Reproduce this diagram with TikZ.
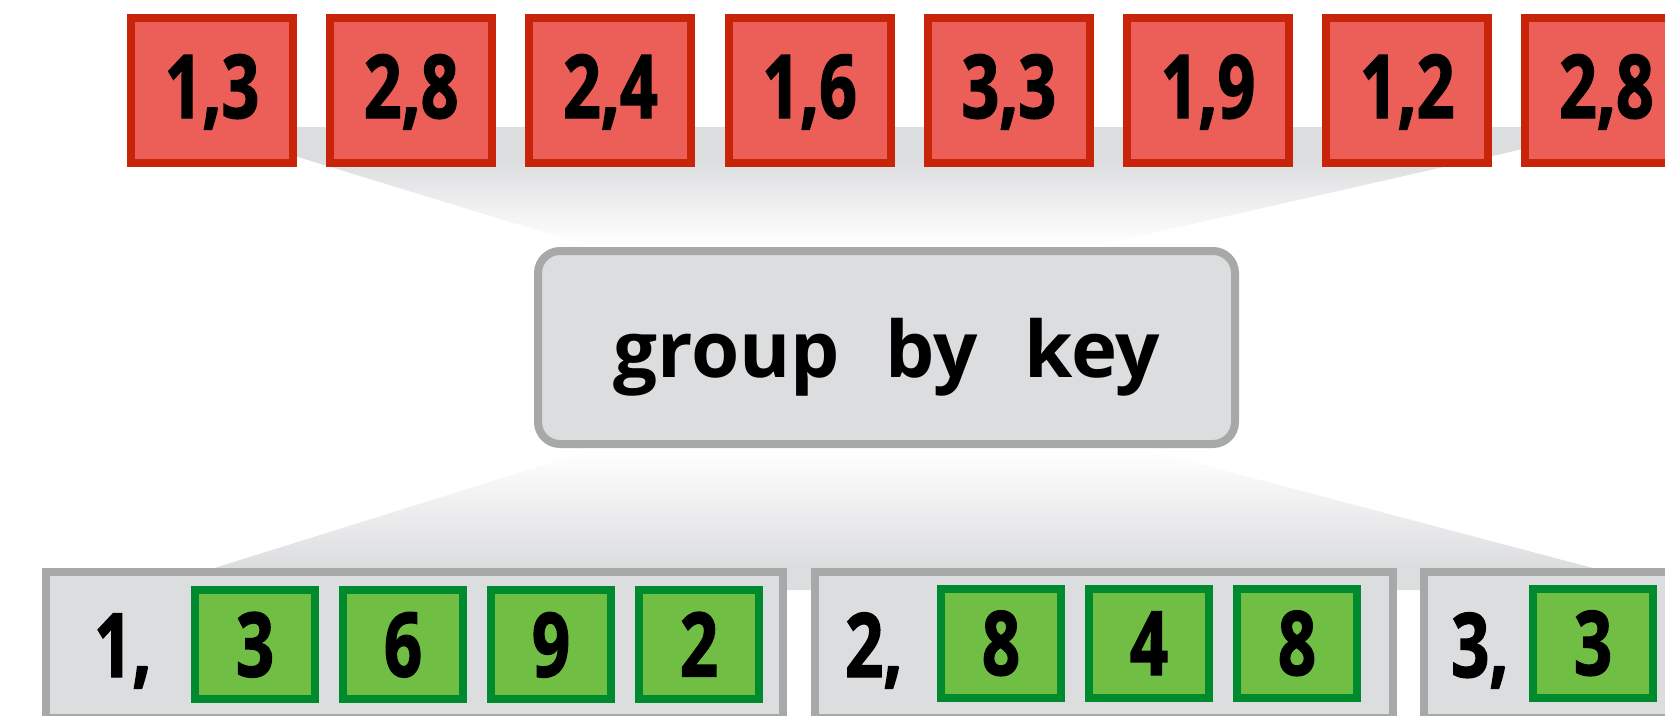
\documentclass[tikz,border=0pt]{standalone}
\usepackage{fontspec}
\setmainfont{Open Sans}
\newfontfamily\condfont{Open Sans}[FakeStretch=0.75,FakeBold=1.6]
\definecolor{redfill}{HTML}{EC5E58}
\definecolor{redline}{HTML}{C8240A}
\definecolor{greenfill}{HTML}{70BF44}
\definecolor{greenline}{HTML}{008A2E}
\definecolor{gfill}{HTML}{DCDDDF}
\definecolor{gline}{HTML}{A7A9A8}
\pgfdeclareverticalshading{topfade}{100bp}{color(0bp)=(white); color(25bp)=(white); color(61bp)=(gfill); color(100bp)=(gfill)}
\pgfdeclareverticalshading{botfade}{100bp}{color(0bp)=(gfill); color(33bp)=(gfill); color(75bp)=(white); color(100bp)=(white)}
\begin{document}
\begin{tikzpicture}[x=1pt,y=-1pt,
  pairbox/.style={draw=redline, fill=redfill, line width=8pt, minimum width=162pt, minimum height=145pt,
    inner sep=0pt, text height=63pt, text depth=8pt, font=\condfont\bfseries\fontsize{88}{88}\selectfont},
  valbox/.style={draw=greenline, fill=greenfill, line width=8pt, minimum width=120pt, minimum height=109pt,
    inner sep=0pt, text height=64pt, text depth=0pt, font=\condfont\bfseries\fontsize{89}{89}\selectfont},
  groupbox/.style={draw=gline, fill=gfill, line width=8pt, minimum height=146pt, inner sep=0pt},
  keylabel/.style={anchor=base west, inner sep=0pt, font=\condfont\bfseries\fontsize{89}{89}\selectfont},
  opbox/.style={draw=gline, fill=gfill, line width=8pt, rounded corners=22pt, minimum width=697pt, minimum height=193pt,
    inner sep=0pt, text height=59pt, text depth=0pt, font=\bfseries\fontsize{78}{78}\selectfont}]
\useasboundingbox (0,0) rectangle (1665,715);
\clip (0,0) rectangle (1665,715);
% funnels
\path[shading=topfade] (200,127) -- (1620,127) -- (1100,245) -- (585,245) -- cycle;
\path[shading=botfade] (592,450) -- (1147,450) -- (1676,590) -- (144,590) -- cycle;
% top row
\node[pairbox] (r1) at (212,90.5) {1,3};
\node[pairbox] (r2) at (411.2,90.5) {2,8};
\node[pairbox] (r3) at (610.4,90.5) {2,4};
\node[pairbox] (r4) at (809.6,90.5) {1,6};
\node[pairbox] (r5) at (1008.8,90.5) {3,3};
\node[pairbox] (r6) at (1208,90.5) {1,9};
\node[pairbox] (r7) at (1407.2,90.5) {1,2};
\node[pairbox] (r8) at (1606.4,90.5) {2,8};
% operation
\node[opbox] (op) at (886.5,347.5) {group\hspace{46pt}by\hspace{46pt}key};
% groups
\node[groupbox, minimum width=737pt] (g1) at (414.5,645) {};
\node[groupbox, minimum width=578pt] (g2) at (1104,645) {};
\node[groupbox, minimum width=253pt] (g3) at (1550.5,645) {};
\node[keylabel] (k1) at (94,677) {1,};
\node[keylabel] (k2) at (845,677) {2,};
\node[keylabel] (k3) at (1451,677) {3,};
\node[valbox] (v11) at (255,644.5) {3};
\node[valbox] (v12) at (403,644.5) {6};
\node[valbox] (v13) at (551,644.5) {9};
\node[valbox] (v14) at (699,644.5) {2};
\node[valbox] (v21) at (1001,643) {8};
\node[valbox] (v22) at (1149,643) {4};
\node[valbox] (v23) at (1297,643) {8};
\node[valbox] (v31) at (1593,643) {3};
\end{tikzpicture}
\end{document}
